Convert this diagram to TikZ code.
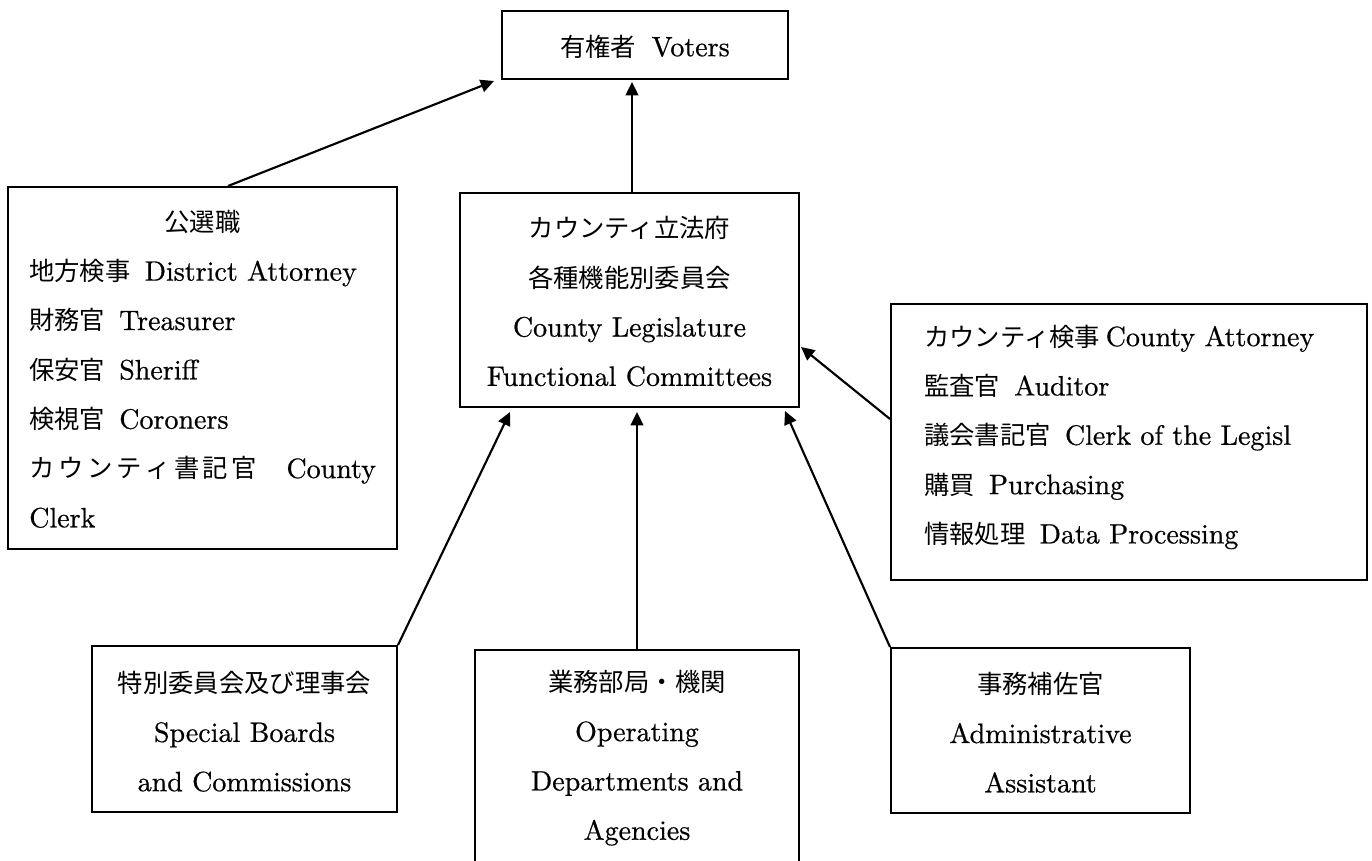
\documentclass[tikz,border=0pt]{standalone}
\usepackage{fontspec}
\setmainfont{lmroman10-regular.otf}[FakeBold=0.6]
\newfontfamily\jp{Noto Sans CJK JP}[Scale=0.905]
\usetikzlibrary{arrows.meta,fit,calc}
\newcommand\bodyfont{\fontsize{21pt}{37pt}\selectfont}
\begin{document}
\begin{tikzpicture}[x=0.75pt,y=-0.75pt,
  box/.style={draw, line width=1.5pt, inner sep=0pt},
  txt/.style={inner sep=0pt, align=left, font=\bodyfont},
  ctxt/.style={inner sep=0pt, align=center, font=\bodyfont},
  conn/.style={line width=1.6pt, -{Triangle[length=10pt,width=9.5pt]}}]
\useasboundingbox (0,0) rectangle (1372,861);

% boxes
\node[box, fit={(502,11)(788,79)}] (voters) {};
\node[box, fit={(460,193)(799,407)}] (leg) {};
\node[box, fit={(8,187)(397,549)}] (elected) {};
\node[box, fit={(891,304)(1367,580)}] (staff) {};
\node[box, fit={(92,646)(397,812)}] (special) {};
\node[box, fit={(475,650)(799,866)}] (ops) {};
\node[box, fit={(891,648)(1190,813)}] (admin) {};

% texts
\node[ctxt] (voterstext) at ($(voters.center)+(0,1.5)$) {{\jp 有権者}\hspace{0.55em}Voters};
\node[ctxt] (legtext) at ($(leg.center)+(0,1.5)$) {{\jp カウンティ立法府}\\{\jp 各種機能別委員会}\\County Legislature\\Functional Committees};
\node[txt, anchor=west] (electedtext) at (29,369) {%
\hspace*{101.5pt}{\jp 公選職}\\
{\jp 地方検事}\hspace{0.5em}District Attorney\\
{\jp 財務官}\hspace{0.5em}Treasurer\\
{\jp 保安官}\hspace{0.5em}Sheriff\\
{\jp 検視官}\hspace{0.5em}Coroners\\
\makebox[260pt][s]{\makebox[171pt][s]{\jp カ\hfil ウ\hfil ン\hfil テ\hfil ィ\hfil 書\hfil 記\hfil 官}\hfill County}\\
Clerk};
\node[txt, anchor=west] (stafftext) at (924,437) {%
{\jp カウンティ検事}\hspace{0.2em}County Attorney\\
{\jp 監査官}\hspace{0.5em}Auditor\\
{\jp 議会書記官}\hspace{0.5em}Clerk of the Legisl\\
{\jp 購買}\hspace{0.5em}Purchasing\\
{\jp 情報処理}\hspace{0.5em}Data Processing};
\node[ctxt] (specialtext) at ($(special.center)+(0,2.5)$) {{\jp 特別委員会及び理事会}\\Special Boards\\and Commissions};
\node[ctxt] (opstext) at ($(ops.center)+(0,0)$) {{\jp 業務部局・機関}\\Operating\\Departments and\\Agencies};
\node[ctxt] (admintext) at ($(admin.center)+(0,2)$) {{\jp 事務補佐官}\\Administrative\\Assistant};

% connectors
\coordinate (legtop) at ($(leg.north)+(2.5,0)$);
\draw[conn] ($(elected.north)+(25.5,0)$) -- ($(voters.south west)+(-7,1)$);
\draw[conn] (legtop) -- ($(legtop |- voters.south)+(0,2)$);
\draw[conn] (special.north east) -- ($(leg.south west)+(51,4)$);
\draw[conn] (ops.north) -- ($(ops.north |- leg.south)+(0,4)$);
\draw[conn] (admin.north west) -- ($(leg.south east)+(-15,3)$);
\draw[conn] ($(staff.north west)+(0,116)$) -- ($(leg.east)+(1,47)$);
\end{tikzpicture}
\end{document}
